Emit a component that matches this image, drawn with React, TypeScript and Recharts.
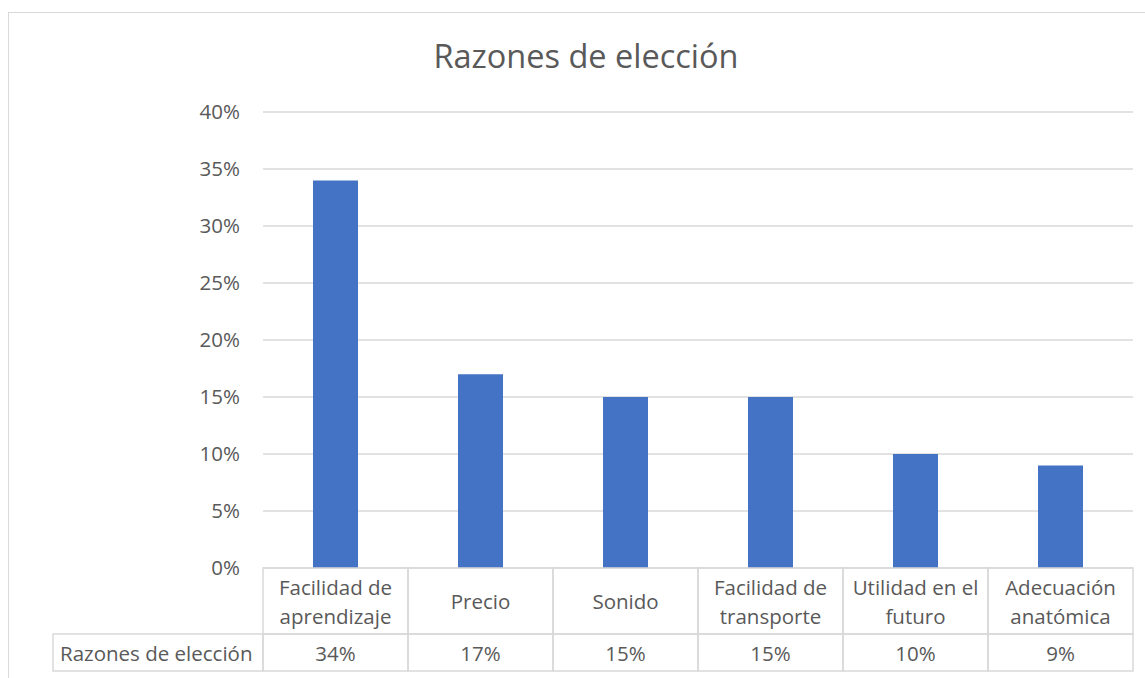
import React from 'react';
import { BarChart, Bar, XAxis, YAxis, CartesianGrid } from 'recharts';

const categories = [
  'Facilidad de\naprendizaje',
  'Precio',
  'Sonido',
  'Facilidad de\ntransporte',
  'Utilidad en el\nfuturo',
  'Adecuación\nanatómica',
];
const values = [0.34, 0.17, 0.15, 0.15, 0.1, 0.09];
const yTicks = [0, 0.05, 0.1, 0.15, 0.2, 0.25, 0.3, 0.35, 0.4];
const seriesName = 'Razones de elección';

const W = 1137;
const H = 666;
const PLOT_LEFT = 254;
const PLOT_RIGHT = 13;
const CELL_W = (W - PLOT_LEFT - PLOT_RIGHT) / categories.length;
const ROW1 = 66;
const ROW2 = 37;
const LINE_H = 29;
const LABEL_W = 210;
const GRID = '#d9d9d9';
const TEXT = '#595959';
const FONT = '"Open Sans", sans-serif';
const FS = 20.5;

const pct = (v: number) => `${Math.round(v * 100)}%`;

const data = categories.map((c, i) => ({ name: c, value: values[i] }));

function TableTick(props: any) {
  const { x, y, payload, index } = props;
  const lines = String(payload.value).split('\n');
  const left = x - CELL_W / 2;
  return (
    <g fontFamily={FONT} fontSize={FS} fill={TEXT}>
      <rect x={left} y={y} width={CELL_W} height={ROW1} fill="none" stroke={GRID} strokeWidth={1.5} />
      <rect x={left} y={y + ROW1} width={CELL_W} height={ROW2} fill="none" stroke={GRID} strokeWidth={1.5} />
      {lines.map((l, i) => (
        <text key={i} x={x} y={y + ROW1 / 2 + (i - (lines.length - 1) / 2) * LINE_H}
          textAnchor="middle" dominantBaseline="central" fill={TEXT}>{l}</text>
      ))}
      <text x={x} y={y + ROW1 + ROW2 / 2} textAnchor="middle" dominantBaseline="central" fill={TEXT}>
        {pct(values[index])}
      </text>
      {index === 0 && (
        <g>
          <rect x={left - LABEL_W} y={y + ROW1} width={LABEL_W} height={ROW2} fill="none" stroke={GRID} strokeWidth={1.5} />
          <text x={left - LABEL_W + 7} y={y + ROW1 + ROW2 / 2} dominantBaseline="central" fill={TEXT}>{seriesName}</text>
        </g>
      )}
    </g>
  );
}

export default function App() {
  return (
    <div style={{
      position: 'absolute', left: 8, top: 12, width: W, height: H, overflow: 'hidden',
      borderLeft: `1.5px solid ${GRID}`, borderTop: `1.5px solid ${GRID}`, background: '#fff',
    }}>
      <div style={{
        position: 'absolute', left: 0, top: 27, width: 1154, textAlign: 'center',
        fontFamily: FONT, fontSize: 32.5, lineHeight: 1, color: TEXT,
      }}>
        Razones de elección
      </div>
      <BarChart width={W} height={H} data={data}
        margin={{ top: 99, right: PLOT_RIGHT, bottom: 0, left: 0 }}>
        <CartesianGrid vertical={false} stroke={GRID} strokeWidth={1.5} />
        <XAxis dataKey="name" height={111} axisLine={false} tickLine={false}
          tickSize={0} tickMargin={0} interval={0} tick={(p: any) => <TableTick {...p} />} />
        <YAxis width={PLOT_LEFT} domain={[0, 0.4]} ticks={yTicks} tickFormatter={pct}
          axisLine={false} tickLine={false} tickSize={0} tickMargin={23}
          tick={{ fontFamily: FONT, fontSize: FS, fill: TEXT }} />
        <Bar dataKey="value" fill="#4472C4" barSize={45} isAnimationActive={false} />
      </BarChart>
    </div>
  );
}
